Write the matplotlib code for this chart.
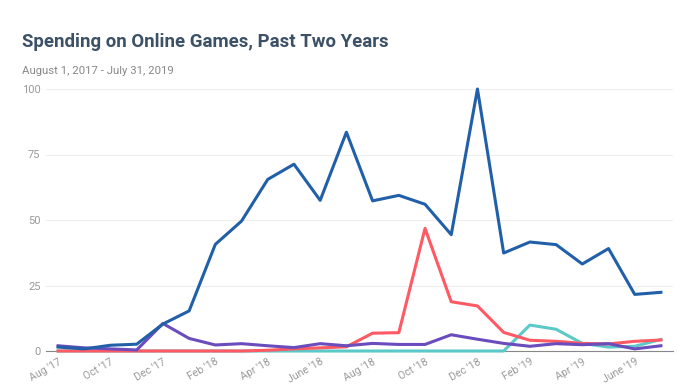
import numpy as np
import matplotlib.pyplot as plt

months = ["Aug '17", "Sep '17", "Oct '17", "Nov '17", "Dec '17", "Jan '18",
          "Feb '18", "Mar '18", "Apr '18", "May '18", "June '18", "Jul '18",
          "Aug '18", "Sep '18", "Oct '18", "Nov '18", "Dec '18", "Jan '19",
          "Feb '19", "Mar '19", "Apr '19", "May '19", "June '19", "Jul '19"]

blue = [1.5, 0.8, 2.2, 2.6, 10.3, 15.3, 40.7, 49.6, 65.5, 71.3, 57.5, 83.5,
        57.3, 59.4, 56.0, 44.4, 100, 37.4, 41.6, 40.6, 33.2, 39.1, 21.6, 22.4]
red = [0, 0, 0, 0, 0, 0, 0, 0, 0.3, 0.8, 1.2, 1.6,
       6.8, 7.0, 46.8, 18.8, 17.2, 7.1, 4.1, 3.7, 2.9, 2.7, 3.7, 4.2]
cyan = [0, 0, 0, 0, 0, 0, 0, 0, 0, 0, 0, 0,
        0, 0, 0, 0, 0, 0, 9.9, 8.3, 2.9, 1.5, 1.8, 4.4]
purple = [2.0, 1.2, 0.8, 0.4, 10.5, 4.8, 2.3, 2.8, 2.0, 1.3, 2.8, 2.0,
          2.9, 2.5, 2.5, 6.2, 4.5, 2.9, 1.8, 2.8, 2.4, 2.8, 0.8, 2.0]

yticks = [0, 25, 50, 75, 100]

plt.rcParams['font.family'] = ['Roboto', 'DejaVu Sans']

fig = plt.figure(figsize=(6.96, 3.85), dpi=100)
ax = fig.add_axes([46 / 696, (385 - 351) / 385, (673 - 46) / 696, (351 - 86) / 385])

x = np.arange(len(months))
ax.plot(x, cyan, color='#5cc9c9', lw=2.2, clip_on=False, zorder=3)
ax.plot(x, red, color='#ff5a64', lw=2.2, clip_on=False, zorder=4)
ax.plot(x, purple, color='#6a4cbc', lw=2.2, clip_on=False, zorder=5)
ax.plot(x, blue, color='#2160a8', lw=2.2, clip_on=False, zorder=6)

ax.set_xlim(-0.46, len(months) - 1 + 0.46)
ax.set_ylim(0, 100 * (351 - 86) / (351 - 89))
ax.set_yticks(yticks)
ax.set_yticklabels([str(v) for v in yticks], color='#999999', fontsize=8)
ax.set_xticks(x[::2])
ax.set_xticklabels(months[::2], rotation=30, ha='right', rotation_mode='anchor',
                   color='#999999', fontsize=7.6)
ax.tick_params(length=0, pad=4)
ax.tick_params(axis='x', pad=4)

ax.grid(axis='y', color='#eeeeee', lw=0.8)
ax.set_axisbelow(True)
for s in ['top', 'right', 'left']:
    ax.spines[s].set_visible(False)
ax.spines['bottom'].set_color('#888888')
ax.spines['bottom'].set_linewidth(0.8)

fig.text(22 / 696, 1 - 42 / 385, 'Spending on Online Games, Past Two Years',
         fontsize=13.4, fontweight='bold', color='#3d5166', va='center')
fig.text(22 / 696, 1 - 71 / 385, 'August 1, 2017 - July 31, 2019',
         fontsize=8.2, color='#888888', va='center')

fig.savefig('out.png', dpi=100, facecolor='white')
